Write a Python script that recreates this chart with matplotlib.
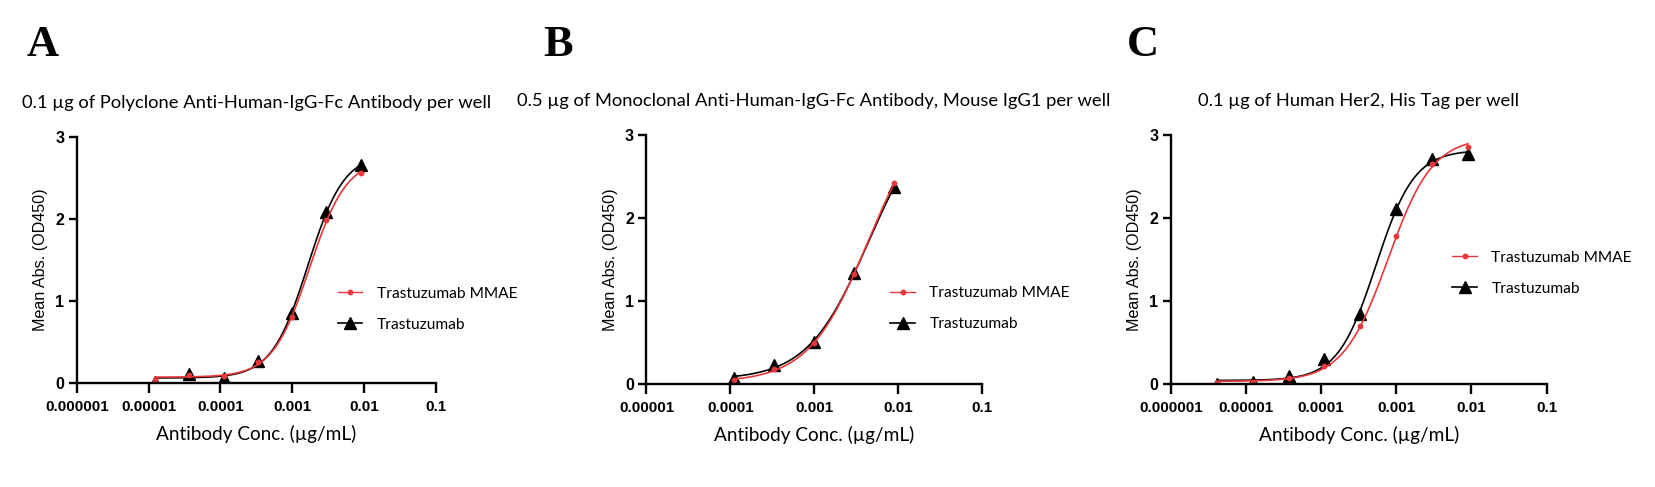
import numpy as np
import matplotlib
matplotlib.use('Agg')
import matplotlib.pyplot as plt

plt.rcParams['font.family'] = ['Lato', 'DejaVu Sans']

# Data
conc_A = [1.23e-5, 3.7e-5, 1.11e-4, 3.33e-4, 1.0e-3, 3.0e-3, 9.0e-3]
mmae_A = [0.04, 0.10, 0.09, 0.26, 0.81, 1.99, 2.56]
tras_A = [0.02, 0.11, 0.07, 0.27, 0.85, 2.09, 2.65]

conc_B = [1.11e-4, 3.33e-4, 1.0e-3, 3.0e-3, 9.0e-3]
mmae_B = [0.05, 0.18, 0.49, 1.33, 2.42]
tras_B = [0.07, 0.23, 0.51, 1.34, 2.37]

conc_C = [4.1e-6, 1.23e-5, 3.7e-5, 1.11e-4, 3.33e-4, 1.0e-3, 3.0e-3, 9.0e-3]
mmae_C = [0.01, 0.03, 0.08, 0.22, 0.70, 1.78, 2.65, 2.86]
tras_C = [0.00, 0.03, 0.10, 0.30, 0.85, 2.11, 2.71, 2.77]

titles = ['0.1 µg of Polyclone Anti-Human-IgG-Fc Antibody per well',
          '0.5 µg of Monoclonal Anti-Human-IgG-Fc Antibody, Mouse IgG1 per well',
          '0.1 µg of Human Her2, His Tag per well']
letters = ['A', 'B', 'C']
xlims = [(1e-6, 1e-1), (1e-5, 1e-1), (1e-6, 1e-1)]
label_mmae = 'Trastuzumab MMAE'
label_tras = 'Trastuzumab'

RED = '#e8373a'
ARIAL = ['Liberation Sans', 'DejaVu Sans']


def fit_4pl(x, y):
    # 4PL fit: grid over logEC50 / hill, linear lstsq for bottom/top
    lx = np.log10(x)
    y = np.asarray(y)
    best = None
    for c in np.linspace(lx.min() - 1, lx.max() + 2, 241):
        for h in np.linspace(0.3, 3.0, 136):
            f = 1.0 / (1.0 + 10 ** ((c - lx) * h))
            A = np.column_stack([np.ones_like(f), f])
            coef, *_ = np.linalg.lstsq(A, y, rcond=None)
            err = np.sum((A @ coef - y) ** 2)
            if best is None or err < best[0]:
                best = (err, c, h, coef)
    _, c, h, coef = best

    def model(xx):
        f = 1.0 / (1.0 + 10 ** ((c - np.log10(xx)) * h))
        return coef[0] + coef[1] * f
    return model


fig = plt.figure(figsize=(16.55, 4.87), dpi=100)
axes_pos = [[0.0464, 0.2129, 0.2169, 0.5064],
            [0.3906, 0.2115, 0.2027, 0.5113],
            [0.7074, 0.2109, 0.2271, 0.5119]]
legend_anchor = [(0.709, 0.300), (0.708, 0.302), (0.732, 0.446)]
letter_x = [0.0162, 0.3285, 0.6807]

data = [(conc_A, mmae_A, tras_A), (conc_B, mmae_B, tras_B), (conc_C, mmae_C, tras_C)]

for i, (conc, mmae, tras) in enumerate(data):
    ax = fig.add_axes(axes_pos[i])
    conc = np.asarray(conc)
    xs = np.logspace(np.log10(conc.min()), np.log10(conc.max()), 300)

    m_t = fit_4pl(conc, tras)
    m_m = fit_4pl(conc, mmae)
    ax.plot(xs, m_t(xs), color='black', lw=1.2)
    ax.plot(conc, tras, '^', color='black', ms=8)
    ax.plot(xs, m_m(xs), color=RED, lw=1.2)
    ax.plot(conc, mmae, 'o', color=RED, ms=3.2)

    h1, = ax.plot([], [], '-o', color=RED, lw=1.0, ms=3.2)
    h2, = ax.plot([], [], '-^', color='black', lw=1.2, ms=8)
    ax.legend([h1, h2], [label_mmae, label_tras], loc='center left',
              bbox_to_anchor=legend_anchor[i], frameon=False, fontsize=11.2,
              handlelength=1.6, handletextpad=0.92, labelspacing=1.1,
              borderaxespad=0)

    ax.set_xscale('log')
    ax.set_xlim(*xlims[i])
    ax.set_ylim(0, 3)
    ax.set_yticks([0, 1, 2, 3])
    ax.xaxis.set_minor_locator(matplotlib.ticker.NullLocator())
    decs = np.logspace(np.log10(xlims[i][0]), np.log10(xlims[i][1]),
                       int(round(np.log10(xlims[i][1] / xlims[i][0]))) + 1)
    ax.set_xticks(decs)
    ax.set_xticklabels([('%.6f' % d).rstrip('0') for d in decs])
    for s in ['top', 'right']:
        ax.spines[s].set_visible(False)
    for s in ['left', 'bottom']:
        ax.spines[s].set_linewidth(1.7)
    ax.tick_params(axis='x', width=1.7, length=7.2, pad=5)
    ax.tick_params(axis='y', width=1.7, length=6, pad=3)
    for lab in ax.get_xticklabels():
        lab.set_fontweight('bold')
        lab.set_family(ARIAL)
        lab.set_fontsize(10.9)
    for lab in ax.get_yticklabels():
        lab.set_fontweight('bold')
        lab.set_family(ARIAL)
        lab.set_fontsize(11.5)
    ax.set_xlabel('Antibody Conc. (µg/mL)', fontsize=13.7, labelpad=8)
    ax.set_ylabel('Mean Abs. (OD450)', fontsize=11.6, family=ARIAL, labelpad=5)
    ax.set_title(titles[i], fontsize=13.2, pad=21)
    fig.text(letter_x[i], 0.948, letters[i], fontsize=32, fontweight='bold',
             family=['Liberation Serif', 'DejaVu Serif'], va='top', ha='left')

fig.savefig('out.png', dpi=100)
